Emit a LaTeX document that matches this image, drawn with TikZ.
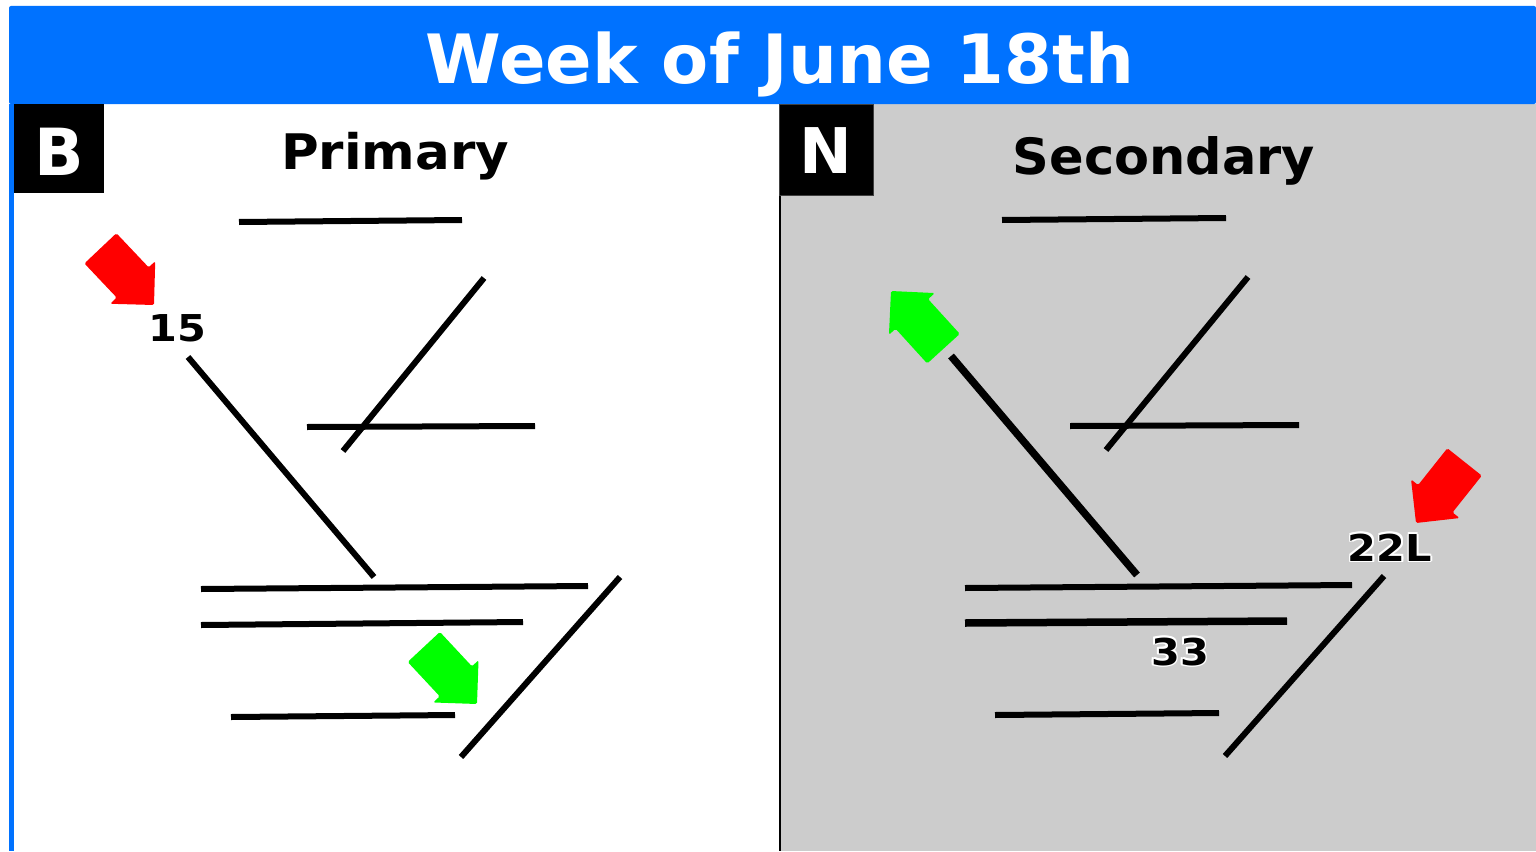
\documentclass[tikz,border=0pt]{standalone}
\usepackage{fontspec}
\setmainfont{DejaVu Sans}
\usetikzlibrary{calc}
\definecolor{barblue}{RGB}{0,114,255}
\definecolor{panelgrey}{RGB}{204,204,204}
\definecolor{arrred}{RGB}{255,0,0}
\definecolor{arrgreen}{RGB}{0,255,0}
\tikzset{
  rwy/.style={line width=6pt, black},
  rwythick/.style={line width=7.5pt, black},
  lbl/.style={font=\bfseries\fontsize{37}{37}\selectfont, inner sep=0pt, anchor=base, xscale=1.12},
  halo/.style={lbl, white},
}
\newcommand{\blockarrow}[4]{%
  \fill[#4, rounded corners=1.5pt, shift={(#1,#2)}, rotate=#3]
    (0,0) -- (-31,31) -- (-31,22) -- (-78,22) -- (-78,-22) -- (-31,-22) -- (-31,-31) -- cycle;}
\newcommand{\halotext}[4]{%
  \foreach \dx/\dy in {-1.6/0,1.6/0,0/-1.6,0/1.6,-1.2/-1.2,1.2/1.2,-1.2/1.2,1.2/-1.2}{
    \node[halo] at ($(#2,#3)+(\dx,\dy)$) {#4};}
  \node[lbl] (#1) at (#2,#3) {#4};}
\begin{document}
\begin{tikzpicture}[x=1pt,y=-1pt]
\useasboundingbox (0,0) rectangle (1536,851);
\fill[white] (0,0) rectangle (1536,851);
% panels
\fill[panelgrey] (780,104) rectangle (1536,851);
\fill[barblue] (9,104) rectangle (14,851);
\fill[black] (778.5,104) rectangle (781,851);
% title bar
\fill[barblue, rounded corners=2pt] (9,6) rectangle (1536,104);
\node[white, font=\bfseries\fontsize{68}{68}\selectfont, inner sep=0pt, anchor=base, xscale=1.01] (title) at (780,83) {Week of June 18th};
% letter boxes
\fill[black] (14,104) rectangle (104,193);
\node[white, font=\bfseries\fontsize{65}{65}\selectfont, inner sep=0pt, anchor=base] (B) at (59,175) {B};
\draw[fill=black, draw=black!75, line width=1pt] (779,104) rectangle (873,195);
\node[white, font=\bfseries\fontsize{63}{63}\selectfont, inner sep=0pt, anchor=base] (N) at (826,173) {N};
% headings
\node[font=\bfseries\fontsize{49}{49}\selectfont, inner sep=0pt, anchor=base, xscale=1.05] (primary) at (395,169) {Primary};
\node[font=\bfseries\fontsize{50}{50}\selectfont, inner sep=0pt, anchor=base, xscale=1.02] (secondary) at (1164,174) {Secondary};
% left panel runways
\draw[rwy] (239,222) -- (462,220);
\draw[rwy] (484,278) -- (343,451);
\draw[rwy] (307,427) -- (535,426);
\draw[rwy] (188,357) -- (374,577);
\draw[rwy] (201,589) -- (588,586);
\draw[rwy] (201,625) -- (523,622);
\draw[rwy] (231,717) -- (455,715);
\draw[rwy] (620,577) -- (461,757);
% right panel runways
\draw[rwy] (1002,220) -- (1226,218);
\draw[rwy] (1248,277) -- (1106,450);
\draw[rwy] (1070,426) -- (1299,425);
\draw[rwythick] (951,356) -- (1137,575);
\draw[rwy] (965,588) -- (1352,585);
\draw[rwythick] (965,623) -- (1287,621);
\draw[rwy] (995,715) -- (1219,713);
\draw[rwy] (1384,576) -- (1225,756);
% arrows
\blockarrow{154}{305}{-46.6}{arrred}
\blockarrow{477}{704}{-47}{arrgreen}
\blockarrow{891}{291}{132.3}{arrgreen}
\blockarrow{1416}{523}{-128.5}{arrred}
% labels
\node[lbl] (l15) at (177,341) {15};
\halotext{l22L}{1390}{561}{22L}
\halotext{l33}{1180}{665}{33}
\end{tikzpicture}
\end{document}
